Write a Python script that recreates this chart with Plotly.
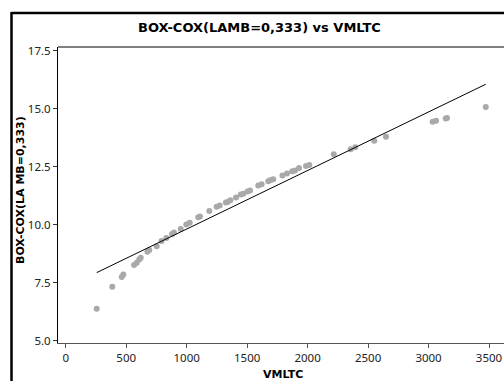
import plotly.graph_objects as go

# Data
vmltc = [256, 385, 463, 476, 565, 587, 608, 620, 675, 691, 752, 792, 832, 879, 895,
         951, 997, 1025, 1096, 1110, 1187, 1248, 1273, 1324, 1339, 1361, 1408, 1447,
         1468, 1503, 1524, 1592, 1620, 1675, 1695, 1716, 1792, 1830, 1873, 1896, 1929,
         1987, 2014, 2216, 2356, 2394, 2551, 2648, 3034, 3062, 3142, 3153, 3473]
boxcox = [6.38, 7.33, 7.75, 7.86, 8.26, 8.36, 8.50, 8.58, 8.84, 8.91, 9.07, 9.30, 9.43,
          9.60, 9.67, 9.82, 10.01, 10.09, 10.32, 10.36, 10.59, 10.78, 10.83, 10.96,
          10.98, 11.06, 11.18, 11.31, 11.34, 11.44, 11.48, 11.69, 11.75, 11.88, 11.93,
          11.96, 12.13, 12.21, 12.31, 12.34, 12.45, 12.54, 12.58, 13.04, 13.26, 13.34,
          13.63, 13.80, 14.45, 14.49, 14.59, 14.61, 15.08]
fit_intercept = 7.29
fit_slope = 0.002526
x_ticks = [0, 500, 1000, 1500, 2000, 2500, 3000, 3500]
y_ticks = [5.0, 7.5, 10.0, 12.5, 15.0, 17.5]
y_tick_labels = ["5.0", "7.5", "10.0", "12.5", "15.0", "17.5"]

W, H = 504, 381
L, R, T, B = 58, 0, 47, 38
PW, PH = W - L - R, H - T - B


def px(x):
    return (x - L) / PW


def py(y):
    return (H - B - y) / PH


fx = [min(vmltc), max(vmltc)]
fy = [fit_intercept + fit_slope * v for v in fx]

fig = go.Figure()
fig.add_trace(go.Scatter(x=vmltc, y=boxcox, mode="markers",
                         marker=dict(color="#a9a9a9", size=6, line=dict(width=0)),
                         showlegend=False, hoverinfo="skip"))
fig.add_trace(go.Scatter(x=fx, y=fy, mode="lines",
                         line=dict(color="black", width=1),
                         showlegend=False, hoverinfo="skip"))

font = "Noto Sans"
bfont = "DejaVu Sans"
fig.update_layout(
    width=W, height=H,
    margin=dict(l=L, r=R, t=T, b=B, pad=0),
    paper_bgcolor="white", plot_bgcolor="white",
    font=dict(family=font, size=11, color="#222"),
    xaxis=dict(range=[-64, 3624], tickvals=x_ticks, ticks="outside", ticklen=4,
               tickcolor="#555", showline=True, linecolor="#555", linewidth=1,
               showgrid=False, zeroline=False, tickfont=dict(size=11.5, color="#222")),
    yaxis=dict(range=[4.90, 17.67], tickvals=y_ticks, ticktext=y_tick_labels,
               ticks="outside", ticklen=4, tickcolor="#333", showline=True,
               linecolor="black", linewidth=1, showgrid=False, zeroline=False,
               tickfont=dict(size=11.5, color="#222")),
    shapes=[
        dict(type="line", xref="paper", yref="paper", x0=0, x1=1, y0=1, y1=1,
             line=dict(color="black", width=1)),
        dict(type="line", xref="paper", yref="paper", x0=px(11.5), x1=1.01,
             y0=py(13), y1=py(13), line=dict(color="black", width=2.5)),
        dict(type="line", xref="paper", yref="paper", x0=px(11.5), x1=px(11.5),
             y0=py(12), y1=py(390), line=dict(color="black", width=2.5)),
    ],
    annotations=[
        dict(text="<b>BOX-COX(LAMB=0,333) vs VMLTC</b>", xref="paper", yref="paper",
             x=px(259.5), y=py(27), xanchor="center", yanchor="middle",
             showarrow=False, font=dict(family=bfont, size=13, color="black")),
        dict(text="<b>BOX-COX(LA MB=0,333)</b>", xref="paper", yref="paper",
             x=px(20), y=py(190), xanchor="center", yanchor="middle", textangle=-90,
             showarrow=False, font=dict(family=bfont, size=11, color="black")),
        dict(text="<b>VMLTC</b>", xref="paper", yref="paper",
             x=px(283), y=py(374), xanchor="center", yanchor="middle",
             showarrow=False, font=dict(family=bfont, size=11, color="black")),
    ],
)

fig.write_html("out.html", config={"displayModeBar": False},
               post_script="document.body.style.margin='0';document.body.style.overflow='hidden';")
